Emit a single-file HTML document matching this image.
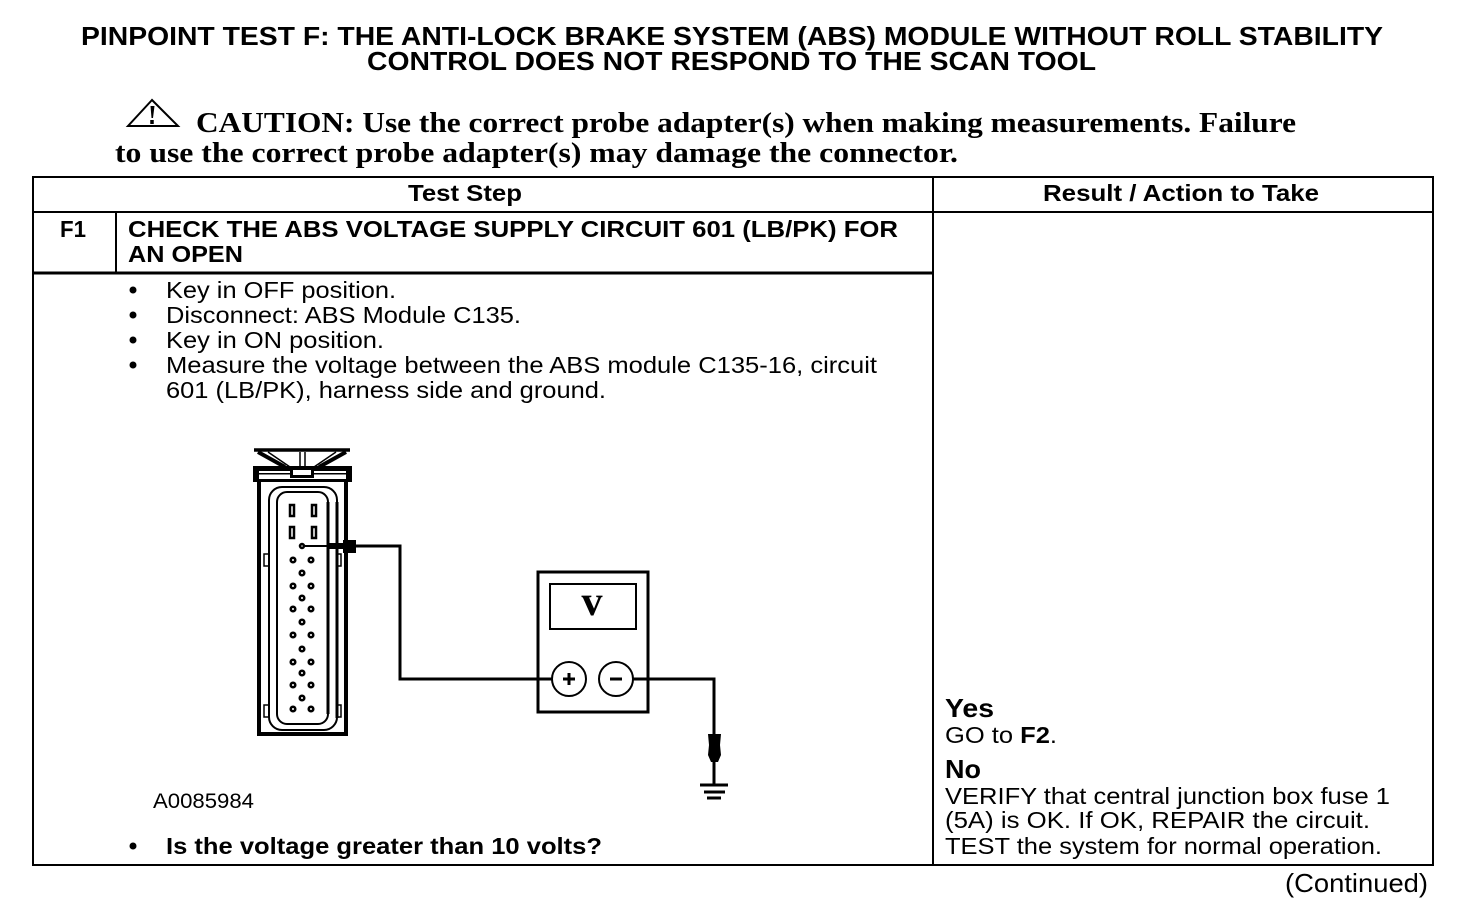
<!DOCTYPE html>
<html>
<head>
<meta charset="utf-8">
<title>Pinpoint Test F</title>
<style>
html,body{margin:0;padding:0;background:#fff;width:1472px;height:912px;overflow:hidden}
svg{display:block}
text{fill:#000;font-family:"Liberation Sans",Arial,sans-serif;white-space:pre}
.t{font-size:26px;font-weight:bold}
.b{font-size:23px;font-weight:bold}
.n{font-size:23px}
.s{font-family:"Liberation Serif","Times New Roman",serif;font-size:29px;font-weight:bold}
</style>
</head>
<body>
<svg width="1472" height="912" viewBox="0 0 1472 912" xmlns="http://www.w3.org/2000/svg">
<rect width="1472" height="912" fill="#fff"/>

<text class="t" x="81" y="45" textLength="1302" lengthAdjust="spacingAndGlyphs">PINPOINT TEST F: THE ANTI-LOCK BRAKE SYSTEM (ABS) MODULE WITHOUT ROLL STABILITY</text>
<text class="t" x="367" y="70" textLength="729" lengthAdjust="spacingAndGlyphs">CONTROL DOES NOT RESPOND TO THE SCAN TOOL</text>

<g fill="none" stroke="#000">
<path d="M152 100 L128 126 L178 126 Z" stroke-width="2"/>
<path d="M150.500 106 H154.500 L153 118 H151.500 Z" fill="#000" stroke="none"/>
<path d="M152 120 L152 124" stroke-width="3.500"/>
</g>
<text class="s" x="196" y="132" textLength="1100" lengthAdjust="spacingAndGlyphs">CAUTION: Use the correct probe adapter(s) when making measurements. Failure</text>
<text class="s" x="115" y="162" textLength="843" lengthAdjust="spacingAndGlyphs">to use the correct probe adapter(s) may damage the connector.</text>

<g fill="none" stroke="#000" shape-rendering="crispEdges">
<rect x="33" y="177" width="1400" height="688" stroke-width="2"/>
<path d="M33 212H1433" stroke-width="2"/>
<path d="M933 177V865" stroke-width="2"/>
<path d="M116 212V273" stroke-width="2"/>
<path d="M33 273H933" stroke-width="3"/>
</g>

<text class="b" x="408" y="201" textLength="114" lengthAdjust="spacingAndGlyphs">Test Step</text>
<text class="b" x="1043" y="201" textLength="276" lengthAdjust="spacingAndGlyphs">Result / Action to Take</text>
<text class="b" x="60" y="237" textLength="26" lengthAdjust="spacingAndGlyphs">F1</text>
<text class="b" x="128" y="237" textLength="770" lengthAdjust="spacingAndGlyphs">CHECK THE ABS VOLTAGE SUPPLY CIRCUIT 601 (LB/PK) FOR</text>
<text class="b" x="128" y="262" textLength="115" lengthAdjust="spacingAndGlyphs">AN OPEN</text>

<g fill="#000">
<circle cx="133" cy="290" r="3.500"/>
<circle cx="133" cy="315" r="3.500"/>
<circle cx="133" cy="340" r="3.500"/>
<circle cx="133" cy="365" r="3.500"/>
<circle cx="133" cy="846" r="3.500"/>
</g>
<text class="n" x="166" y="298" textLength="230" lengthAdjust="spacingAndGlyphs">Key in OFF position.</text>
<text class="n" x="166" y="323" textLength="355" lengthAdjust="spacingAndGlyphs">Disconnect: ABS Module C135.</text>
<text class="n" x="166" y="348" textLength="218" lengthAdjust="spacingAndGlyphs">Key in ON position.</text>
<text class="n" x="166" y="373" textLength="711" lengthAdjust="spacingAndGlyphs">Measure the voltage between the ABS module C135-16, circuit</text>
<text class="n" x="166" y="398" textLength="440" lengthAdjust="spacingAndGlyphs">601 (LB/PK), harness side and ground.</text>
<text class="n" x="153" y="808" style="font-size:21px" textLength="101" lengthAdjust="spacingAndGlyphs">A0085984</text>
<text class="b" x="166" y="854" textLength="436" lengthAdjust="spacingAndGlyphs">Is the voltage greater than 10 volts?</text>

<text x="945" y="717" style="font-size:26px;font-weight:bold" textLength="49" lengthAdjust="spacingAndGlyphs">Yes</text>
<text class="n" x="945" y="743" textLength="112" lengthAdjust="spacingAndGlyphs">GO to <tspan font-weight="bold">F2</tspan>.</text>
<text x="945" y="778" style="font-size:26px;font-weight:bold" textLength="36" lengthAdjust="spacingAndGlyphs">No</text>
<text class="n" x="945" y="804" textLength="445" lengthAdjust="spacingAndGlyphs">VERIFY that central junction box fuse 1</text>
<text class="n" x="945" y="828" textLength="425" lengthAdjust="spacingAndGlyphs">(5A) is OK. If OK, REPAIR the circuit.</text>
<text class="n" x="945" y="854" textLength="437" lengthAdjust="spacingAndGlyphs">TEST the system for normal operation.</text>
<text x="1285" y="892" style="font-size:26px" textLength="143" lengthAdjust="spacingAndGlyphs">(Continued)</text>

<!-- connector -->
<g fill="none" stroke="#000">
<path d="M254 450H350" stroke-width="3.500"/>
<path d="M258 452L285 467M346 452L319 467" stroke-width="4"/>
<path d="M268 452L290 467M336 452L314 467" stroke-width="1.500"/>
<path d="M300 452V466M305 452V466" stroke-width="1.500"/>
</g>
<g shape-rendering="crispEdges">
<rect x="253" y="466" width="99" height="16" fill="#000"/>
<rect x="259" y="471" width="87" height="8" fill="#fff"/>
<rect x="290" y="471" width="24" height="7" fill="#000"/>
<rect x="293" y="470" width="18" height="5" fill="#fff"/>
<rect x="259" y="473" width="87" height="1.500" fill="#000"/>
<rect x="293" y="470" width="18" height="5" fill="#fff"/>
</g>
<g fill="none" stroke="#000">
<path d="M259 480V734H346V480" stroke-width="4"/>
<rect x="269" y="487" width="68" height="243" rx="13" ry="13" stroke-width="2"/>
<rect x="277" y="492" width="51" height="232" rx="10" ry="10" stroke-width="2"/>
<path d="M328 502V714M337 502V718" stroke-width="3"/>
<rect x="264" y="554" width="5" height="12" stroke-width="1.500"/>
<rect x="337" y="554" width="4" height="12" stroke-width="1.500"/>
<rect x="264" y="705" width="5" height="12" stroke-width="1.500"/>
<rect x="337" y="705" width="4" height="12" stroke-width="1.500"/>
<rect x="290" y="505" width="4" height="11" stroke-width="2.500"/>
<rect x="312" y="505" width="4" height="11" stroke-width="2.500"/>
<rect x="290" y="527" width="4" height="11" stroke-width="2.500"/>
<rect x="312" y="527" width="4" height="11" stroke-width="2.500"/>
<g stroke-width="2.500">
<circle cx="302" cy="546" r="2"/>
<circle cx="293" cy="560" r="2.300"/><circle cx="311" cy="560" r="2.300"/>
<circle cx="302" cy="573" r="2.300"/>
<circle cx="293" cy="586" r="2.300"/><circle cx="311" cy="586" r="2.300"/>
<circle cx="302" cy="598" r="2.300"/>
<circle cx="293" cy="609" r="2.300"/><circle cx="311" cy="609" r="2.300"/>
<circle cx="302" cy="622" r="2.300"/>
<circle cx="293" cy="635" r="2.300"/><circle cx="311" cy="635" r="2.300"/>
<circle cx="302" cy="649" r="2.300"/>
<circle cx="293" cy="662" r="2.300"/><circle cx="311" cy="662" r="2.300"/>
<circle cx="302" cy="673" r="2.300"/>
<circle cx="293" cy="685" r="2.300"/><circle cx="311" cy="685" r="2.300"/>
<circle cx="302" cy="698" r="2.300"/>
<circle cx="293" cy="709" r="2.300"/><circle cx="311" cy="709" r="2.300"/>
</g>
<path d="M304 546H327" stroke-width="2"/>
</g>
<g fill="#000">
<rect x="327" y="543" width="20" height="6"/>
<rect x="343" y="540" width="13" height="13"/>
</g>

<!-- wires and meter -->
<g fill="none" stroke="#000">
<path d="M356 546H400V679H552" stroke-width="3"/>
<rect x="538" y="572" width="110" height="140" stroke-width="3"/>
<rect x="550" y="584" width="86" height="45" stroke-width="2"/>
<circle cx="569" cy="679" r="17" fill="#fff" stroke-width="2"/>
<circle cx="616" cy="679" r="17" fill="#fff" stroke-width="2"/>
<path d="M563 679H575M569 673V685" stroke-width="3"/>
<path d="M610 679H622" stroke-width="3"/>
<path d="M633 679H714V785" stroke-width="3"/>
<path d="M700 785H728" stroke-width="3"/>
<path d="M704 792H725" stroke-width="3"/>
<path d="M707 798H721" stroke-width="3"/>
</g>
<path d="M708 734H721L720 745L721 755L718 762H711L708 755L709 745Z" fill="#000"/>
<text x="592" y="615" text-anchor="middle" style="font-family:'Liberation Serif',serif;font-size:42px;font-weight:bold">v</text>
</svg>
</body>
</html>
